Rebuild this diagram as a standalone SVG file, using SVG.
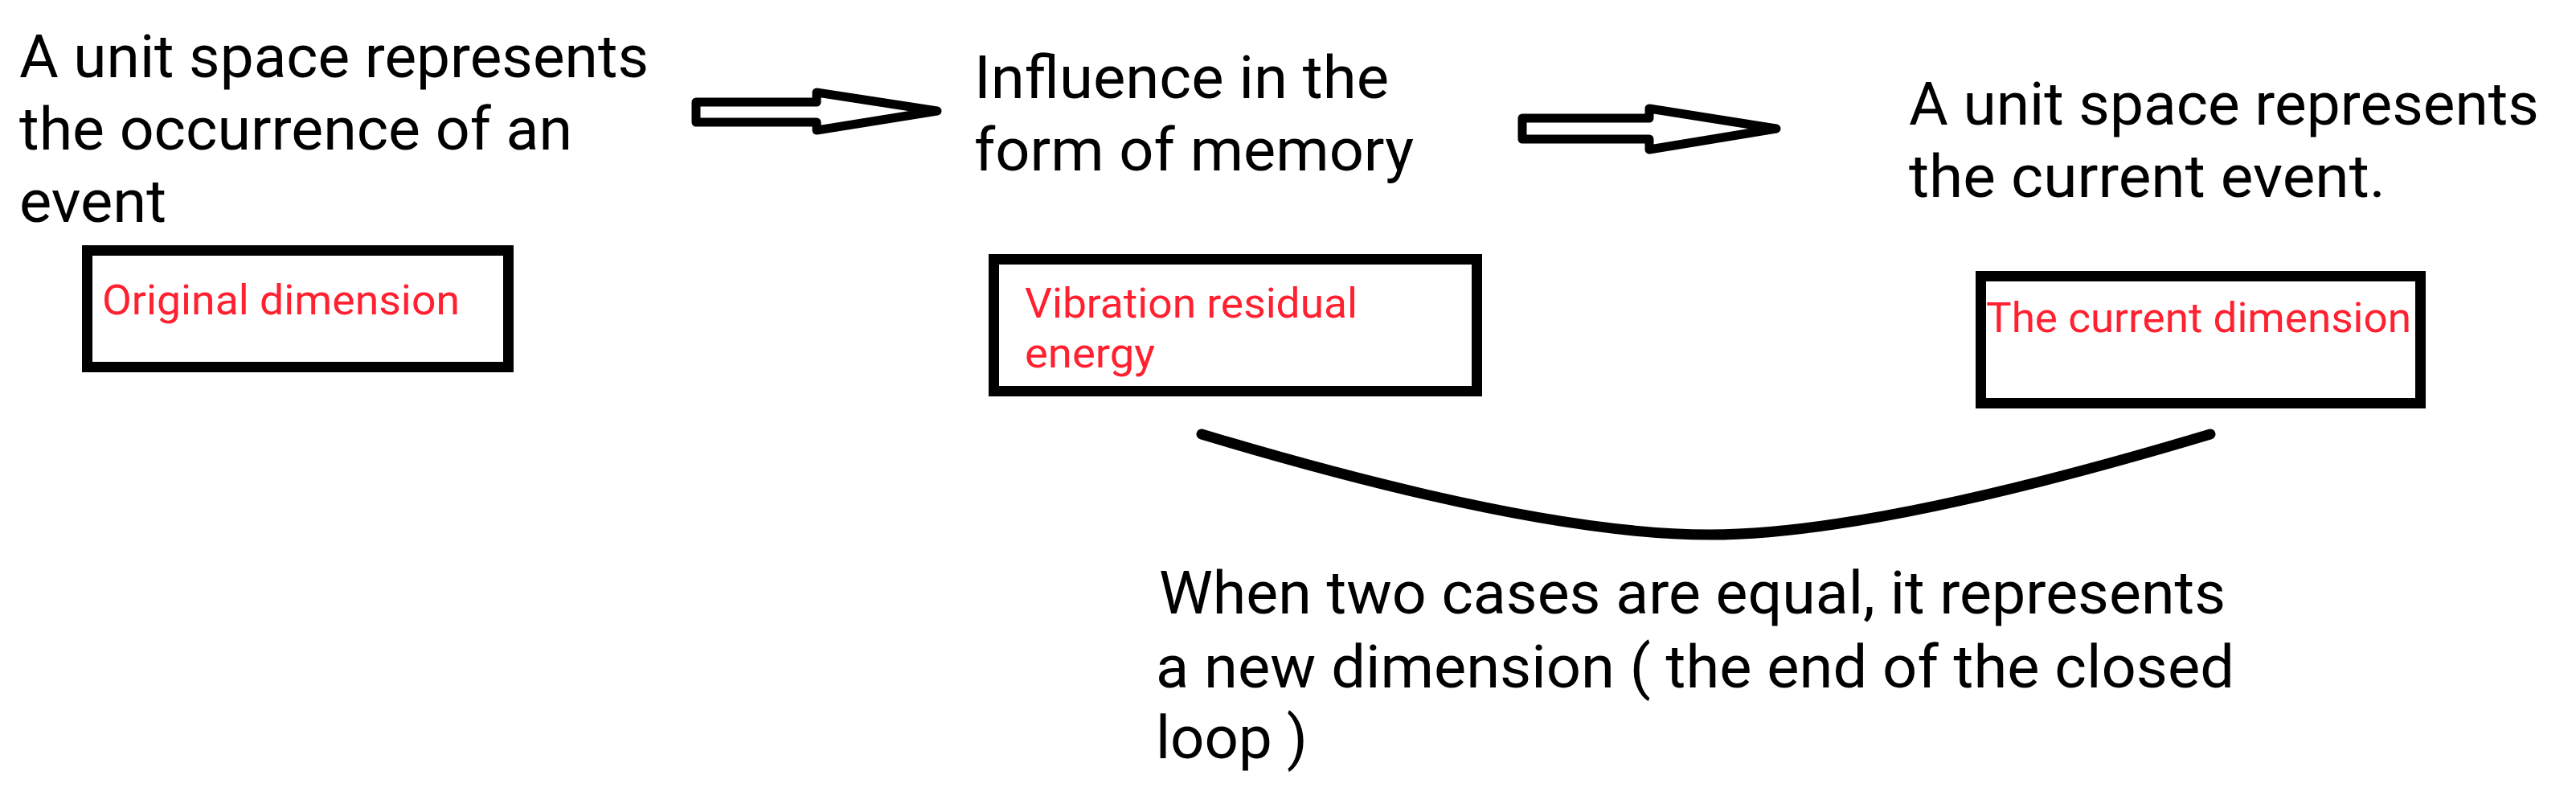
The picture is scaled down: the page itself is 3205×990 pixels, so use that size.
<svg xmlns="http://www.w3.org/2000/svg" width="3205" height="990" viewBox="0 0 3205 990">
<style>
.t{font-family:Roboto,"Noto Sans","Liberation Sans",sans-serif;font-size:74px;fill:#000}
.r{font-family:Roboto,"Noto Sans","Liberation Sans",sans-serif;font-size:52px;fill:#ff2030}
.box{fill:#fff;stroke:#000;stroke-width:13}
.arr{fill:#fff;stroke:#000;stroke-width:11;stroke-linejoin:round}
.curve{fill:none;stroke:#000;stroke-width:13;stroke-linecap:round;stroke-linejoin:round}
</style>
<rect width="3205" height="990" fill="#fff"/>
<g id="node-original">
<text class="t" x="24" y="96" textLength="783" lengthAdjust="spacingAndGlyphs">A unit space represents</text>
<text class="t" x="24" y="186" textLength="688" lengthAdjust="spacingAndGlyphs">the occurrence of an</text>
<text class="t" x="24" y="276" textLength="183" lengthAdjust="spacingAndGlyphs">event</text>
<rect class="box" x="108.5" y="311.5" width="524" height="145"/>
<text class="r" x="127" y="391" textLength="445" lengthAdjust="spacingAndGlyphs">Original dimension</text>
</g>
<g id="node-memory">
<text class="t" x="1212" y="122" textLength="516" lengthAdjust="spacingAndGlyphs">Influence in the</text>
<text class="t" x="1212" y="212" textLength="547" lengthAdjust="spacingAndGlyphs">form of memory</text>
<rect class="box" x="1236.5" y="322.5" width="601" height="164"/>
<text class="r" x="1275" y="395" textLength="414" lengthAdjust="spacingAndGlyphs">Vibration residual</text>
<text class="r" x="1275" y="457" textLength="162" lengthAdjust="spacingAndGlyphs">energy</text>
</g>
<g id="node-current">
<text class="t" x="2375" y="155" textLength="784" lengthAdjust="spacingAndGlyphs">A unit space represents</text>
<text class="t" x="2375" y="245" textLength="593" lengthAdjust="spacingAndGlyphs">the current event.</text>
<rect class="box" x="2464.5" y="343.5" width="547" height="158"/>
<text class="r" x="2471" y="413" textLength="529" lengthAdjust="spacingAndGlyphs">The current dimension</text>
</g>
<g id="node-new">
<text class="t" x="1442" y="763" textLength="1327" lengthAdjust="spacingAndGlyphs">When two cases are equal, it represents</text>
<text class="t" x="1438" y="855" textLength="1342" lengthAdjust="spacingAndGlyphs">a new dimension ( the end of the closed</text>
<text class="t" x="1438" y="943" textLength="189" lengthAdjust="spacingAndGlyphs">loop )</text>
</g>
<g id="connectors">
<polygon class="arr" points="866,127 1016,127 1016,115 1166,138 1016,162 1016,152 866,152"/>
<polygon class="arr" points="1894,147 2052,147 2052,135 2210,160 2052,186 2052,173 1894,173"/>
<path class="curve" d="M1495,540 Q1912,665 2127,665 Q2333,665 2750,540"/>
</g>
</svg>
